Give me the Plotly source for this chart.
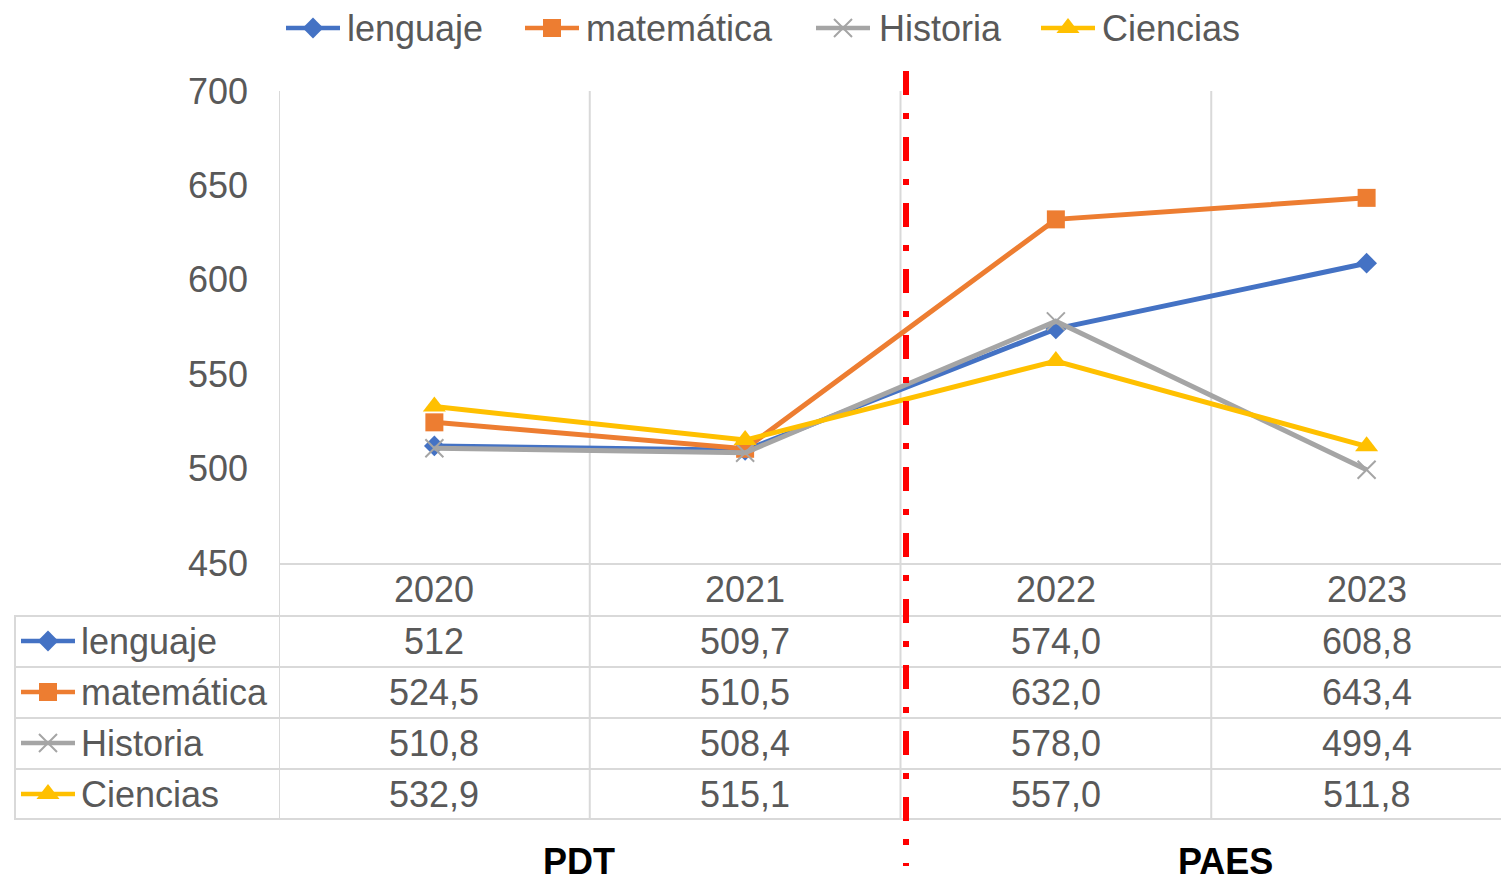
import plotly.graph_objects as go

# ---------------- data ----------------
years = [2020, 2021, 2022, 2023]
year_labels = ["2020", "2021", "2022", "2023"]
series_names = ["lenguaje", "matemática", "Historia", "Ciencias"]
lenguaje = [512, 509.7, 574.0, 608.8]
matematica = [524.5, 510.5, 632.0, 643.4]
historia = [510.8, 508.4, 578.0, 499.4]
ciencias = [532.9, 515.1, 557.0, 511.8]
lenguaje_txt = ["512", "509,7", "574,0", "608,8"]
matematica_txt = ["524,5", "510,5", "632,0", "643,4"]
historia_txt = ["510,8", "508,4", "578,0", "499,4"]
ciencias_txt = ["532,9", "515,1", "557,0", "511,8"]
y_ticks = [450, 500, 550, 600, 650, 700]
era_labels = ["PDT", "PAES"]

# ---------------- styles ----------------
W, H = 1501, 881
FONT = "Liberation Sans, Arial, sans-serif"
TXT = "#595959"
GRID = "#D9D9D9"
colors = ["#4472C4", "#ED7D31", "#A5A5A5", "#FFC000"]
symbols = ["diamond", "square", "x-thin", "triangle-up"]
msizes = [16, 18, 18, 20]
values = [lenguaje, matematica, historia, ciencias]
texts = [lenguaje_txt, matematica_txt, historia_txt, ciencias_txt]


def marker(i):
    m = dict(symbol=symbols[i], size=msizes[i], color=colors[i])
    if symbols[i] == "x-thin":
        m["line"] = dict(color=colors[i], width=2)
    else:
        m["line"] = dict(width=0)
    return m


fig = go.Figure()

# data lines
for i, name in enumerate(series_names):
    fig.add_trace(go.Scatter(
        x=years, y=values[i], name=name, mode="lines+markers",
        line=dict(color=colors[i], width=5), marker=marker(i),
        xaxis="x", yaxis="y", showlegend=False, cliponaxis=False,
        hoverinfo="skip"))

# legend keys (top) and table keys (rows), on a pixel overlay axis
legend_line_x = [286, 525, 816, 1041]
legend_text_x = [345, 584, 877, 1100]
legend_y = 28
row_y = [641, 692, 743, 794]
annotations = []
for i, name in enumerate(series_names):
    for (lx, ly) in [(legend_line_x[i], legend_y), (21, row_y[i])]:
        fig.add_trace(go.Scatter(
            x=[lx, lx + 54], y=[ly, ly], mode="lines",
            line=dict(color=colors[i], width=4.5), xaxis="x2", yaxis="y2",
            showlegend=False, hoverinfo="skip", cliponaxis=False))
        fig.add_trace(go.Scatter(
            x=[lx + 27], y=[ly], mode="markers", marker=marker(i),
            xaxis="x2", yaxis="y2", showlegend=False, hoverinfo="skip",
            cliponaxis=False))
    annotations.append(dict(text=name, x=legend_text_x[i], y=legend_y,
                            xref="x2", yref="y2", xanchor="left",
                            yanchor="middle", showarrow=False,
                            font=dict(size=36, color=TXT, family=FONT)))
    annotations.append(dict(text=name, x=79, y=row_y[i],
                            xref="x2", yref="y2", xanchor="left",
                            yanchor="middle", showarrow=False,
                            font=dict(size=36, color=TXT, family=FONT)))
    for j, yr in enumerate(years):
        annotations.append(dict(text=texts[i][j], x=yr, y=row_y[i],
                                xref="x", yref="y2", xanchor="center",
                                yanchor="middle", showarrow=False,
                                font=dict(size=36, color=TXT, family=FONT)))

for yr, lab in zip(years, year_labels):
    annotations.append(dict(text=lab, x=yr, y=589, xref="x", yref="y2",
                            xanchor="center", yanchor="middle",
                            showarrow=False,
                            font=dict(size=36, color=TXT, family=FONT)))

for lab, cx in zip(era_labels, [579, 1225]):
    annotations.append(dict(text="<b>" + lab + "</b>", x=cx, y=861,
                            xref="x2", yref="y2", xanchor="center",
                            yanchor="middle", showarrow=False,
                            font=dict(size=36, color="#000000", family=FONT)))

# grid / table lines
shapes = []
for b in [years[0] - 0.5] + [y + 0.5 for y in years[:-1]]:
    shapes.append(dict(type="line", xref="x", yref="y2", x0=b, x1=b,
                       y0=91, y1=819, line=dict(color=GRID, width=2),
                       layer="below"))
shapes.append(dict(type="line", xref="x2", yref="y2", x0=279, x1=1501,
                   y0=564, y1=564, line=dict(color=GRID, width=2),
                   layer="below"))
for hy in [616, 667, 718, 769, 819]:
    shapes.append(dict(type="line", xref="x2", yref="y2", x0=14, x1=1501,
                       y0=hy, y1=hy, line=dict(color=GRID, width=2),
                       layer="below"))
shapes.append(dict(type="line", xref="x2", yref="y2", x0=15, x1=15,
                   y0=616, y1=819, line=dict(color=GRID, width=2),
                   layer="below"))
# red dash-dot separator
shapes.append(dict(type="line", xref="x2", yref="y2", x0=906, x1=906,
                   y0=71, y1=866,
                   line=dict(color="#FF0000", width=6,
                             dash="24px,18px,6px,18px"),
                   layer="above"))

fig.update_layout(
    width=W, height=H,
    margin=dict(l=0, r=0, t=0, b=0, pad=0, autoexpand=False),
    paper_bgcolor="white", plot_bgcolor="rgba(0,0,0,0)",
    font=dict(family=FONT, color=TXT),
    xaxis=dict(domain=[279 / W, 1],
               range=[years[0] - 0.5, years[-1] + 0.5 - 21 / 311],
               showticklabels=False, showgrid=False,
               zeroline=False, showline=False, fixedrange=True),
    yaxis=dict(domain=[1 - 563 / H, 1 - 91 / H], range=[450, 700],
               tickvals=y_ticks, ticktext=[str(v) for v in y_ticks],
               showgrid=False, zeroline=False, showline=False,
               tickfont=dict(size=36, color=TXT, family=FONT),
               ticklabelstandoff=30, fixedrange=True),
    xaxis2=dict(domain=[0, 1], range=[0, W], visible=False, anchor="y2",
                fixedrange=True),
    yaxis2=dict(domain=[0, 1], range=[H, 0], visible=False, anchor="x2",
                fixedrange=True),
    shapes=shapes, annotations=annotations, showlegend=False,
)

fig.write_html("out.html",
               config={"displayModeBar": False},
               post_script="document.body.style.margin='0';"
                           "document.body.style.overflow='hidden';")
